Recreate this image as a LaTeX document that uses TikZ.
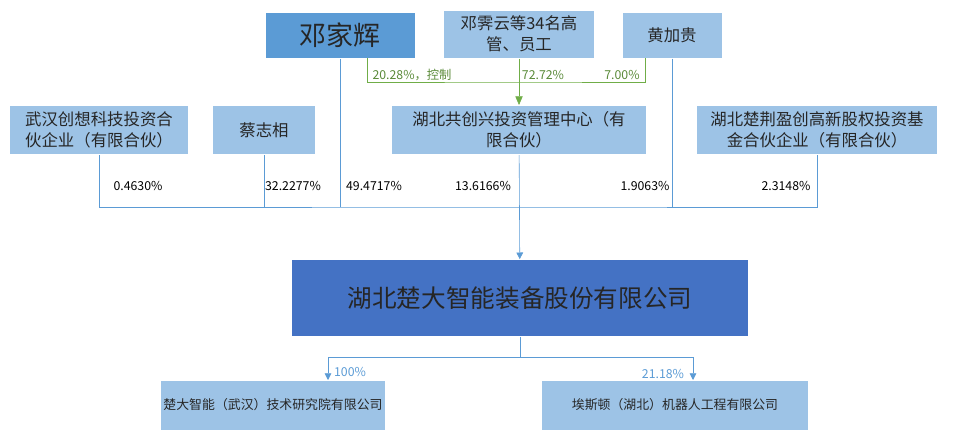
\documentclass[tikz,border=0pt]{standalone}
\usepackage{fontspec}
\setmainfont{Noto Sans CJK SC}
\usetikzlibrary{arrows.meta,positioning}
\definecolor{boxlight}{HTML}{9DC3E6}
\definecolor{boxmid}{HTML}{5B9BD5}
\definecolor{boxdark}{HTML}{4472C4}
\definecolor{ctrl}{HTML}{70AD47}
\tikzstyle{box}=[rectangle,inner sep=1mm,align=center,draw=white,line width=0.3mm,fill=boxlight,text=black!85,font=\fontsize{14}{18}\selectfont]
\tikzstyle{sub}=[box,font=\fontsize{11}{14}\selectfont]
\tikzstyle{holder}=[box,fill=boxmid,font=\fontsize{23}{26}\selectfont]
\tikzstyle{issuer}=[box,fill=boxdark,font=\fontsize{21}{24}\selectfont]
\tikzstyle{share}=[draw=boxmid,line width=0.5pt]
\tikzstyle{owns}=[share,-{Triangle[width=2mm,length=2mm]}]
\tikzstyle{pct}=[font=\fontsize{10.5}{12}\selectfont,inner sep=1pt]
\tikzstyle{ctrlpct}=[pct,text=ctrl!80!black]

\begin{document}
\begin{tikzpicture}[x=0.03cm,y=-0.03cm]
\useasboundingbox (0,0) rectangle (960,446);

\node (deng) [holder,minimum width=4.5cm,minimum height=1.38cm] at (340,35) {邓家辉};
\node (staff) [box,minimum width=4.55cm,minimum height=1.44cm] at (519,34) {邓霁云等34名高\\管、员工};
\node (huang) [box,minimum width=3cm,minimum height=1.38cm] at (672,35) {黄加贵};

\node (wuhan) [box,minimum width=5.35cm,minimum height=1.47cm] at (99,130) {武汉创想科技投资合\\伙企业（有限合伙）};
\node (cai) [box,minimum width=3.1cm,minimum height=1.47cm] at (264,130) {蔡志相};
\node (gcx) [box,minimum width=7.65cm,minimum height=1.47cm] at (519,130) {湖北共创兴投资管理中心（有\\限合伙）};
\node (cjy) [box,minimum width=7.25cm,minimum height=1.47cm] at (817,130) {湖北楚荆盈创高新股权投资基\\金合伙企业（有限合伙）};

\node (chuda) [issuer,minimum width=13.7cm,minimum height=2.3cm] at (520,298) {湖北楚大智能装备股份有限公司};

\node (inst) [sub,minimum width=6.7cm,minimum height=1.5cm] at (273,405) {楚大智能（武汉）技术研究院有限公司};
\node (esd) [sub,minimum width=8cm,minimum height=1.5cm] at (675,405) {埃斯顿（湖北）机器人工程有限公司};

% control of the partnership
\coordinate (gbus) at (520,82) ;
\draw [ctrl,line width=0.5pt] (367,58) |- (gbus) -| (645,58) ;
\draw [ctrl,line width=0.5pt,-{Triangle[width=2.2mm,length=2.6mm]}] (staff) -- (gcx) ;
\node [ctrlpct] at (412,75) {20.28\%，控制};
\node [ctrlpct] at (543,75) {72.72\%};
\node [ctrlpct] at (622,75) {7.00\%};

% shareholders of the company
\coordinate (sbus) at (520,207) ;
\draw [share] (wuhan.south) |- (sbus) -| (cjy.south) ;
\draw [share] (cai.south) -- (cai.south |- sbus) ;
\draw [share] (deng.south) -- (deng.south |- sbus) ;
\draw [share] (huang.south) -- (huang.south |- sbus) ;
\draw [owns] (gcx) -- (chuda) ;
\node [pct] at (138,186) {0.4630\%};
\node [pct] at (293,186) {32.2277\%};
\node [pct] at (374,186) {49.4717\%};
\node [pct] at (483,186) {13.6166\%};
\node [pct] at (645,186) {1.9063\%};
\node [pct] at (786,186) {2.3148\%};

% subsidiaries
\coordinate (cbus) at (520,357) ;
\draw [share] (chuda) -- (cbus) ;
\draw [owns] (cbus) -| (328,380) ;
\draw [owns] (cbus) -| (693,380) ;
\node [pct,text=boxmid] at (350,372) {100\%};
\node [pct,text=boxmid] at (663,374) {21.18\%};

\end{tikzpicture}
\end{document}
